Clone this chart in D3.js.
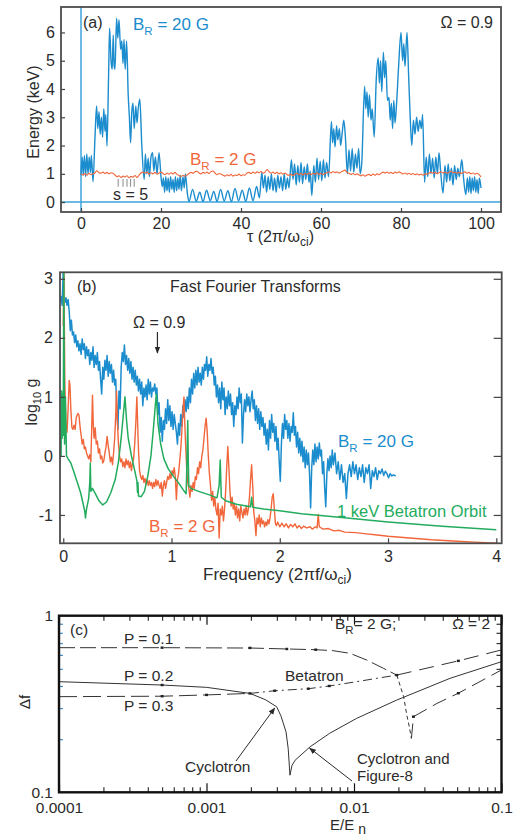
<!DOCTYPE html>
<html>
<head>
<meta charset="utf-8">
<script src="https://cdn.jsdelivr.net/npm/d3@7"></script>
<style>
  body { margin: 0; background: #fff; }
  svg text { font-family: "Liberation Sans", Arial, Helvetica, sans-serif; fill: #2b2b2b; }
</style>
</head>
<body>
<svg id="fig" width="515" height="836"></svg>
<script>
// ---------------- (a) energy versus time ----------------
const tauTicks = [0, 20, 40, 60, 80, 100];
const energyTicks = [0, 1, 2, 3, 4, 5, 6];

// B_R = 20 G energy trace: [tau, keV] turning points
const energy20G = [
  [0,0.95],[0.3,1.6],[0.55,0.95],[0.85,1.65],[1.15,0.9],[1.45,1.7],[1.75,1.0],[2.05,1.6],[2.35,1.05],[2.6,1.65],[3.0,0.72],
  [3.5,2.3],[3.9,3.4],[4.2,2.6],[4.5,3.2],[4.8,2.4],[5.1,3.0],[5.4,2.3],[5.7,3.3],[6.0,2.5],[6.2,3.1],[6.5,1.98],
  [6.9,4.5],[7.15,6.15],[7.5,5.0],[7.8,4.7],[8.05,5.9],[8.3,4.8],[8.5,4.7],[8.9,6.5],[9.2,5.8],[9.5,6.45],[9.9,5.4],[10.2,5.7],
  [10.5,4.9],[10.75,5.75],[11.05,4.7],[11.4,5.7],[11.8,3.8],[12.1,3.0],[12.4,2.1],[12.7,3.2],[13.0,3.5],[13.3,2.6],[13.7,3.4],
  [14.0,2.8],[14.3,3.3],[14.7,3.65],[15.2,2.0],[15.8,0.8],
  [16.1,1.7],[16.45,1.0],[16.8,1.55],[17.1,0.9],[17.5,1.6],[17.9,1.75],[18.2,1.1],[18.6,1.6],[19.0,1.0],[19.5,1.75],[20.0,0.9],[20.3,0.55],
  [20.6,0.85],[20.9,0.35],[21.2,0.9],[21.5,0.4],[21.8,0.85],[22.1,0.35],[22.4,0.9],[22.7,0.45],[23.0,0.8],[23.3,0.35],[23.6,0.9],
  [23.9,0.4],[24.2,0.85],[24.5,0.45],[24.8,0.95],[25.1,0.4],[25.5,0.9],[25.8,0.5],[26.1,1.0],[26.6,0.3],[27.0,0.02],
  [27.9,0.45],[28.8,0.03],[29.7,0.35],[30.5,0.02],[31.4,0.42],[32.3,0.05],[33.2,0.38],[34.0,0.02],[34.9,0.45],[35.8,0.04],
  [36.7,0.4],[37.6,0.02],[38.5,0.48],[39.4,0.05],[40.3,0.42],[41.2,0.03],[42.1,0.5],[43.0,0.05],[43.9,0.55],[44.6,0.15],
  [45.2,1.05],[45.6,0.5],[46.0,0.95],[46.4,0.35],[46.8,0.9],[47.2,0.45],[47.6,1.0],[48.0,0.4],[48.4,0.85],[48.8,0.35],[49.2,0.95],
  [49.6,0.5],[50.0,0.9],[50.4,0.4],[50.8,1.0],[51.2,0.45],[51.6,0.85],[52.0,0.5],[52.6,1.5],[53.0,0.8],
  [53.4,1.35],[53.8,0.6],[54.2,1.3],[54.6,0.7],[55.0,1.4],[55.4,0.65],[55.8,1.25],[56.2,0.8],[56.6,1.35],[57.0,0.7],[57.3,1.1],[57.7,0.23],
  [58.2,1.3],[58.6,0.7],[59.0,1.55],[59.4,0.8],[59.8,1.45],[60.2,0.75],[60.6,1.5],[61.0,0.85],[61.4,1.4],[61.9,0.9],
  [62.6,2.85],[62.9,2.1],[63.2,2.6],[63.5,1.95],[63.9,2.7],[64.2,2.2],[64.6,2.6],[64.9,2.0],[65.3,2.45],[65.7,2.9],[66.1,2.3],[66.6,1.0],
  [67.0,1.85],[67.4,1.1],[67.8,1.9],[68.2,1.05],[68.6,1.7],[69.0,1.2],[69.4,1.9],[69.8,1.0],[70.2,1.4],
  [70.9,4.1],[71.2,3.3],[71.5,3.9],[71.8,3.0],[72.1,3.8],[72.5,2.9],[72.8,3.3],[73.3,2.3],
  [73.8,4.3],[74.3,5.1],[74.6,4.2],[74.9,5.0],[75.2,3.9],[75.6,5.3],[75.9,4.4],[76.2,5.0],[76.6,3.6],
  [77.0,3.7],[77.3,2.9],[77.6,3.5],[77.9,2.6],[78.2,3.6],[78.5,2.8],[78.9,3.5],
  [79.4,4.8],[80.0,6.0],[80.4,5.0],[80.7,5.6],[81.0,4.8],[81.5,6.0],[81.9,4.5],[82.3,3.0],[82.7,2.0],
  [83.1,2.9],[83.5,2.4],[83.9,3.0],[84.3,2.5],[84.7,2.9],[85.1,2.6],[85.4,3.1],[85.9,0.7],
  [86.3,1.6],[86.7,0.9],[87.1,1.7],[87.5,1.0],[87.9,1.55],[88.3,0.85],[88.7,1.6],[89.1,1.0],[89.5,1.75],[89.9,1.1],[90.5,0.32],
  [91.0,1.3],[91.4,0.7],[91.8,1.35],[92.2,0.75],[92.6,1.2],[93.0,0.6],[93.4,1.3],[93.8,0.8],[94.2,1.2],[94.6,0.9],[95.2,1.5],[95.6,0.9],[96.2,0.26],
  [96.6,0.85],[96.9,0.35],[97.2,0.9],[97.5,0.3],[97.8,0.85],[98.1,0.4],[98.4,0.9],[98.7,0.35],[99.0,0.8],[99.3,0.3],[99.6,0.85],[100.0,0.5]
];

// B_R = 2 G energy trace, sampled every half unit of tau from 0 to 100
const tauStep2G = 0.5;
const energy2G = [
  1.00,0.96,1.01,0.95,1.02,0.97,1.00,1.04,1.11,1.04,1.02,1.06,1.01,1.05,1.00,1.04,1.02,0.96,0.90,0.93,
  0.87,0.92,0.89,0.93,0.86,0.91,0.88,0.94,0.87,0.95,1.03,1.06,1.02,1.06,0.99,1.04,1.00,1.05,0.99,1.03,
  1.06,1.01,0.97,1.03,0.99,1.04,1.00,1.05,0.98,0.94,0.91,0.95,0.92,0.96,1.01,1.05,1.02,1.07,1.09,1.03,
  1.00,1.05,1.02,1.06,1.01,1.08,1.10,1.03,0.97,1.01,0.99,0.95,0.92,0.97,0.93,0.98,0.92,0.96,0.94,0.99,
  0.93,0.97,0.95,1.03,1.05,1.01,1.06,1.02,1.07,1.04,1.08,1.02,1.06,1.15,1.08,1.02,1.06,1.01,1.05,1.00,
  1.04,0.99,1.03,0.97,0.95,0.98,0.94,0.99,1.02,0.97,1.01,0.96,1.02,0.98,1.03,0.97,1.02,0.99,1.04,0.98,
  1.02,0.97,1.01,1.04,1.07,1.03,1.08,1.04,1.07,1.03,1.06,1.10,1.13,1.05,1.02,0.98,1.01,0.97,1.00,0.96,
  0.93,0.97,0.92,0.96,0.98,0.94,0.99,0.95,1.00,0.97,1.02,1.06,1.03,1.06,1.02,1.05,1.01,1.06,1.03,1.07,
  1.04,1.00,1.03,0.99,1.02,0.98,1.01,0.97,1.00,0.96,0.99,0.95,1.00,0.98,1.03,1.06,1.02,1.05,1.01,1.04,
  1.07,1.03,1.06,1.02,1.05,1.09,1.04,1.06,1.02,1.05,1.01,1.04,1.07,1.02,1.05,1.00,1.03,0.99,1.02,0.98,
  0.89
];

// cyclotron periods marked under the 2 G trace (s = 5)
const periodMarks = [9.3, 10.5, 11.5, 12.4, 13.3];

// ---------------- (b) Fourier spectra ----------------
const freqTicks = [0, 1, 2, 3, 4];
const log10gTicks = [-1, 0, 1, 2, 3];

// [frequency, log10 g]
const spectrum20G = [
  [-0.03,2.62],[-0.02,2.7],[-0.01,2.55],[0.0,3.15],[0.005,2.7],[0.015,2.6],[0.025,2.68],[0.035,2.55],[0.045,2.65],[0.055,2.45],
  [0.065,2.12],[0.075,2.3],[0.085,2.05],[0.095,2.1],[0.105,1.92],[0.115,2.05],[0.125,1.85],[0.135,1.95],[0.145,1.78],[0.155,1.9],
  [0.165,1.72],[0.175,1.98],[0.185,1.8],[0.195,1.9],[0.205,1.65],[0.215,1.85],[0.225,1.7],[0.235,1.8],[0.245,1.55],[0.255,1.75],
  [0.265,1.62],[0.275,1.85],[0.285,1.5],[0.295,1.7],[0.305,1.55],[0.315,1.75],[0.325,1.45],[0.335,1.6],[0.345,1.3],[0.355,1.05],
  [0.365,1.5],[0.375,1.3],[0.385,1.62],[0.395,1.45],[0.405,1.7],[0.415,1.35],[0.425,1.6],[0.435,1.4],[0.445,1.55],[0.455,1.25],
  [0.465,1.45],[0.475,1.2],[0.485,1.3],[0.495,0.75],[0.505,0.45],[0.515,1.1],[0.525,0.8],[0.535,1.5],[0.545,1.75],[0.555,1.6],
  [0.565,1.88],[0.575,1.55],[0.585,1.7],[0.595,1.45],[0.605,1.65],[0.615,1.4],[0.625,1.6],[0.635,1.3],[0.645,1.5],[0.655,1.25],
  [0.665,1.45],[0.675,1.2],[0.685,1.35],[0.695,1.1],[0.705,1.3],[0.715,1.05],[0.725,1.25],[0.735,0.85],[0.745,1.15],[0.755,1.0],
  [0.765,1.2],[0.775,0.95],[0.785,1.3],[0.795,1.05],[0.805,1.25],[0.815,1.0],[0.825,1.15],[0.835,1.1],[0.845,1.22],[0.855,1.05],
  [0.865,1.15],[0.875,0.7],[0.885,0.9],[0.895,0.4],[0.905,0.65],[0.915,0.25],[0.925,0.6],[0.935,0.45],[0.945,0.8],[0.955,0.55],
  [0.965,0.95],[0.975,0.6],[0.985,0.85],[0.995,0.5],[1.005,0.75],[1.015,0.45],[1.025,0.7],[1.035,0.55],[1.045,0.4],[1.055,0.2],
  [1.065,0.55],[1.075,0.35],[1.085,0.7],[1.095,0.5],[1.105,0.85],[1.115,0.65],[1.125,0.95],[1.135,0.75],[1.145,1.0],[1.155,0.8],
  [1.165,1.15],[1.175,0.9],[1.185,1.3],[1.195,1.05],[1.205,1.4],[1.215,1.15],[1.225,1.45],[1.235,1.2],[1.245,1.5],[1.255,1.25],
  [1.265,1.4],[1.275,1.2],[1.285,1.5],[1.295,1.3],[1.305,1.55],[1.315,1.45],[1.325,1.68],[1.335,1.35],[1.345,1.55],[1.355,1.45],
  [1.365,1.65],[1.375,1.4],[1.385,1.5],[1.395,1.2],[1.405,1.35],[1.415,1.0],[1.425,1.2],[1.435,0.9],[1.445,1.15],[1.455,0.8],
  [1.465,1.25],[1.475,0.95],[1.485,1.15],[1.495,0.7],[1.505,1.0],[1.515,0.8],[1.525,1.1],[1.535,0.85],[1.545,1.05],[1.555,0.7],
  [1.565,0.9],[1.575,0.5],[1.585,0.85],[1.595,0.7],[1.605,1.0],[1.615,0.8],[1.625,1.15],[1.635,0.9],[1.645,1.05],[1.655,0.22],
  [1.665,0.7],[1.675,0.95],[1.685,0.75],[1.695,1.05],[1.705,0.85],[1.715,1.0],[1.725,0.75],[1.735,0.95],[1.745,1.1],[1.755,0.8],
  [1.765,0.95],[1.775,0.6],[1.785,0.85],[1.795,0.55],[1.805,0.8],[1.815,0.45],[1.825,0.75],[1.835,0.5],[1.845,0.65],[1.855,0.35],
  [1.865,0.55],[1.875,0.2],[1.885,0.45],[1.895,0.1],[1.905,0.6],[1.915,0.3],[1.925,0.7],[1.935,0.4],[1.945,0.55],[1.955,0.25],
  [1.965,0.5],[1.975,0.1],[1.985,0.3],[1.995,-0.1],[2.005,-0.43],[2.015,0.2],[2.025,0.55],[2.035,0.3],[2.045,0.7],[2.055,0.45],
  [2.065,0.6],[2.075,0.3],[2.085,0.55],[2.095,0.25],[2.105,0.5],[2.115,0.4],[2.125,0.73],[2.135,0.35],[2.145,0.5],[2.155,0.15],
  [2.165,0.4],[2.175,0.05],[2.185,0.3],[2.195,0.0],[2.205,0.25],[2.215,-0.1],[2.225,0.15],[2.235,-0.2],[2.245,0.1],[2.255,-0.15],
  [2.265,0.05],[2.275,-0.3],[2.285,-0.88],[2.295,-0.2],[2.305,0.1],[2.315,-0.15],[2.325,0.2],[2.335,-0.1],[2.345,0.15],[2.355,-0.05],
  [2.365,0.22],[2.375,0.0],[2.385,0.1],[2.395,-0.3],[2.405,-0.1],[2.415,-0.55],[2.425,-0.86],[2.435,-0.3],[2.445,-0.05],[2.455,-0.25],
  [2.465,0.0],[2.475,-0.2],[2.485,0.1],[2.495,-0.15],[2.51,0.05],[2.525,-0.3],[2.54,-0.1],[2.555,-0.4],[2.57,-0.15],[2.585,-0.45],
  [2.6,-0.3],[2.615,-0.72],[2.63,-0.3],[2.645,-0.15],[2.66,-0.35],[2.675,-0.1],[2.69,-0.3],[2.705,-0.15],[2.72,-0.4],[2.735,-0.2],
  [2.75,-0.35],[2.765,-0.15],[2.78,-0.45],[2.795,-0.2],[2.81,-0.3],[2.825,-0.15],[2.84,-0.55],[2.855,-0.25],[2.87,-0.35],[2.885,-0.2],
  [2.9,-0.4],[2.915,-0.25],[2.93,-0.3],[2.945,-0.22],[2.96,-0.33],[2.975,-0.26],[2.99,-0.3],[3.005,-0.37],[3.02,-0.3],[3.035,-0.34],
  [3.05,-0.32],[3.07,-0.34]
];

const spectrum2G = [
  [0.0,2.2],[0.006,3.15],[0.015,1.2],[0.025,0.5],[0.035,0.4],[0.045,0.8],[0.055,1.28],[0.062,1.2],[0.07,0.8],[0.08,0.48],
  [0.09,0.45],[0.1,0.52],[0.11,0.45],[0.12,0.65],[0.135,0.72],[0.145,0.69],[0.155,0.5],[0.165,0.35],[0.175,0.2],[0.185,0.28],
  [0.195,0.12],[0.205,0.15],[0.215,0.05],[0.225,0.0],[0.235,-0.05],[0.245,0.02],[0.255,-0.1],[0.262,0.4],[0.27,1.03],[0.278,0.5],
  [0.285,0.3],[0.295,0.48],[0.305,0.2],[0.315,0.25],[0.325,0.05],[0.335,0.12],[0.345,-0.05],[0.355,0.0],[0.365,-0.12],[0.375,-0.08],
  [0.385,0.05],[0.395,0.15],[0.405,0.33],[0.415,0.18],[0.425,0.05],[0.435,-0.1],[0.445,-0.02],[0.455,-0.15],[0.465,0.05],[0.475,0.3],
  [0.485,0.7],[0.492,1.1],[0.5,0.6],[0.51,0.2],[0.52,0.0],[0.53,-0.1],[0.54,-0.05],[0.55,-0.18],[0.56,-0.1],[0.57,-0.2],
  [0.58,-0.05],[0.59,-0.15],[0.6,-0.08],[0.61,-0.2],[0.62,-0.1],[0.63,-0.25],[0.64,-0.12],[0.65,-0.05],[0.66,0.2],[0.67,0.55],
  [0.68,1.0],[0.688,0.5],[0.695,0.1],[0.705,-0.25],[0.715,-0.35],[0.725,-0.4],[0.735,-0.33],[0.745,-0.45],[0.755,-0.38],[0.765,-0.48],
  [0.775,-0.4],[0.785,-0.5],[0.795,-0.42],[0.805,-0.5],[0.815,-0.45],[0.825,-0.55],[0.835,-0.45],[0.845,-0.52],[0.855,-0.4],[0.865,-0.5],
  [0.875,-0.42],[0.885,-0.5],[0.895,-0.55],[0.905,-0.45],[0.915,-0.68],[0.925,-0.5],[0.935,-0.42],[0.945,-0.55],[0.955,-0.45],[0.965,-0.35],
  [0.975,-0.4],[0.985,-0.3],[0.995,-0.38],[1.005,-0.25],[1.015,-0.32],[1.025,-0.2],[1.035,-0.35],[1.045,-0.74],[1.055,-0.4],[1.065,-0.3],
  [1.075,-0.1],[1.085,0.1],[1.095,0.4],[1.105,0.75],[1.115,1.0],[1.122,0.6],[1.13,0.2],[1.14,-0.2],[1.15,-0.45],[1.16,-0.55],
  [1.17,-0.7],[1.18,-0.5],[1.19,-0.6],[1.2,-0.45],[1.21,-0.55],[1.22,-0.35],[1.23,-0.4],[1.24,-0.2],[1.25,-0.3],[1.26,-0.1],
  [1.27,-0.2],[1.28,0.0],[1.29,0.1],[1.3,0.3],[1.31,0.5],[1.32,0.64],[1.33,0.4],[1.34,0.0],[1.35,-0.3],[1.36,-0.5],
  [1.37,-0.75],[1.38,-0.6],[1.39,-0.85],[1.4,-0.7],[1.41,-0.9],[1.42,-1.0],[1.43,-0.8],[1.44,-1.39],[1.45,-0.9],[1.46,-1.0],
  [1.47,-0.85],[1.48,-1.1],[1.49,-0.9],[1.5,-0.6],[1.51,-0.2],[1.52,0.16],[1.53,-0.2],[1.54,-0.6],[1.55,-0.85],[1.56,-0.7],
  [1.57,-0.9],[1.58,-0.8],[1.59,-1.0],[1.6,-0.85],[1.61,-1.05],[1.62,-0.9],[1.63,-1.1],[1.64,-0.85],[1.65,-0.95],[1.66,-1.05],
  [1.67,-0.9],[1.68,-1.0],[1.69,-0.85],[1.7,-1.0],[1.71,-0.9],[1.72,-0.7],[1.73,-0.4],[1.74,-0.15],[1.75,-0.5],[1.76,-0.95],
  [1.77,-1.1],[1.78,-1.35],[1.79,-1.05],[1.8,-1.15],[1.81,-1.0],[1.82,-1.2],[1.83,-1.05],[1.84,-1.15],[1.85,-1.1],[1.86,-1.2],
  [1.87,-1.12],[1.88,-1.18],[1.89,-1.08],[1.9,-1.15],[1.91,-1.05],[1.92,-0.9],[1.93,-0.7],[1.94,-0.64],[1.95,-0.9],[1.96,-1.15],
  [1.97,-1.18],[1.98,-1.12],[2.0,-1.2],[2.02,-1.14],[2.04,-1.2],[2.06,-1.15],[2.08,-1.22],[2.1,-1.16],[2.12,-1.2],[2.14,-1.15],
  [2.16,-1.22],[2.18,-1.18],[2.2,-1.23],[2.22,-1.19],[2.25,-1.22],[2.28,-1.2],[2.3,-1.24],[2.33,-1.2],[2.345,-1.22],[2.355,-0.99],
  [2.365,-1.2],[2.4,-1.24],[2.45,-1.23],[2.5,-1.27],[2.55,-1.26],[2.6,-1.29],[2.7,-1.3],[2.8,-1.32],[2.9,-1.34],[3.0,-1.36],
  [3.2,-1.39],[3.4,-1.42],[3.6,-1.44],[3.8,-1.46],[4.0,-1.48]
];

const spectrumBetatron = [
  [-0.03,0.0],[-0.02,0.0],[-0.015,1.1],[-0.01,0.3],[-0.005,1.05],[0.0,0.35],[0.005,3.15],[0.012,0.2],[0.02,1.0],[0.03,0.0],
  [0.045,-0.05],[0.07,-0.12],[0.1,-0.28],[0.13,-0.45],[0.16,-0.62],[0.18,-0.78],[0.2,-0.95],[0.205,-1.05],[0.215,-0.9],[0.235,-0.72],
  [0.245,-0.45],[0.25,-0.12],[0.255,-0.6],[0.27,-0.55],[0.3,-0.65],[0.33,-0.76],[0.365,-0.83],[0.4,-0.78],[0.44,-0.62],[0.48,-0.4],
  [0.51,-0.1],[0.535,0.3],[0.555,0.7],[0.57,1.0],[0.585,0.6],[0.6,0.3],[0.63,0.0],[0.66,-0.25],[0.68,-0.42],[0.686,-0.62],
  [0.69,-0.45],[0.695,-0.68],[0.72,-0.69],[0.75,-0.6],[0.78,-0.35],[0.81,0.0],[0.83,0.4],[0.85,0.85],[0.86,1.05],[0.875,0.55],
  [0.9,0.2],[0.93,-0.05],[0.97,-0.22],[1.02,-0.35],[1.07,-0.47],[1.11,-0.58],[1.135,-0.64],[1.14,-0.3],[1.15,0.6],[1.155,-0.1],
  [1.16,-0.5],[1.18,-0.55],[1.25,-0.6],[1.35,-0.66],[1.42,-0.71],[1.44,-0.5],[1.45,-0.07],[1.46,-0.7],[1.5,-0.76],[1.6,-0.82],
  [1.73,-0.86],[1.74,-0.7],[1.75,-0.87],[1.85,-0.9],[2.0,-0.93],[2.2,-0.98],[2.5,-1.03],[3.0,-1.12],[3.5,-1.19],[4.0,-1.25]
];

// ---------------- (c) frequency spread versus energy ----------------
const energyRatioTicks = [1e-4, 1e-3, 1e-2, 1e-1];
const energyRatioLabels = ["0.0001", "0.001", "0.01", "0.1"];
const deltaFTicks = [0.1, 1];
const deltaFLabels = ["0.1", "1"];

// [E/E_n, delta f]
const orbitP01 = [[1e-4,0.659],[5e-4,0.659],[0.002,0.656],[0.0035,0.648],[0.0055,0.642],[0.0072,0.634],[0.0094,0.612],[0.0122,0.561],[0.0158,0.504],[0.0195,0.461]];
const orbitP01Drop = [[0.0195,0.461],[0.0217,0.348],[0.0228,0.274],[0.0237,0.235],[0.0245,0.202]];
const orbitP01Rise = [[0.0245,0.202],[0.0253,0.268],[0.0366,0.319],[0.051,0.364],[0.1,0.493]];
const orbitP02 = [[1e-4,0.423],[5e-4,0.405],[0.001,0.393],[0.00197,0.363],[0.0025,0.335],[0.00299,0.305],[0.0032,0.27],[0.00346,0.22],
  [0.00358,0.177],[0.00368,0.125],[0.0038,0.142],[0.00399,0.152],[0.00504,0.181],[0.00685,0.216],[0.0104,0.262],[0.0195,0.333],[0.0448,0.442],[0.1,0.549]];
const orbitP03 = [[1e-4,0.348],[5e-4,0.350],[0.001,0.356],[0.00197,0.363]];
const orbitBetatron = [[0.00197,0.363],[0.0029,0.376],[0.0049,0.386],[0.0068,0.40],[0.0104,0.423],[0.0143,0.442],[0.0195,0.461]];
const orbitUpper = [[0.0195,0.461],[0.051,0.555],[0.1,0.64]];
const orbitMarkers = [[5e-4,0.659],[0.00197,0.657],[0.0035,0.648],[0.0055,0.642],[5e-4,0.405],[5e-4,0.350],[0.001,0.356],[0.00197,0.363],
  [0.0029,0.376],[0.0049,0.386],[0.0068,0.40],[0.0195,0.461],[0.051,0.555],[0.051,0.364],[0.0253,0.268]];

// ---------------- drawing ----------------
const svg = d3.select("#fig");
const BLUE = "#1b8ccd", ORANGE = "#f1663a", GREEN = "#23ac5e", INK = "#2b2b2b";
const plain = d => String(d);

const defs = svg.append("defs");
defs.append("marker").attr("id", "arrow").attr("viewBox", "0 0 10 10")
  .attr("refX", 9).attr("refY", 5).attr("markerWidth", 7).attr("markerHeight", 7)
  .attr("orient", "auto-start-reverse").attr("markerUnits", "userSpaceOnUse")
  .append("path").attr("d", "M0,1 L10,5 L0,9 Z").attr("fill", INK);

function clip(id, x, y) {
  defs.append("clipPath").attr("id", id).append("rect")
    .attr("x", x[0]).attr("y", y[1]).attr("width", x[1] - x[0]).attr("height", y[0] - y[1]);
}
function styleAxis(g, size, tickColor) {
  g.attr("font-size", size).attr("font-family", null);
  g.select(".domain").remove();
  g.selectAll(".tick line").attr("stroke", tickColor || "#444").attr("stroke-width", 1.2);
  g.selectAll(".tick text").attr("fill", INK);
}
function subText(g, x, y, parts, opts) {
  const t = g.append("text").attr("x", x).attr("y", y).attr("font-size", opts.size || 16);
  if (opts.fill) t.attr("fill", opts.fill).style("fill", opts.fill);
  if (opts.rotate) t.attr("transform", `rotate(-90,${x},${y})`).attr("text-anchor", "middle");
  if (opts.anchor) t.attr("text-anchor", opts.anchor);
  let shift = 0;
  parts.forEach(p => {
    const s = t.append("tspan").text(p.t);
    const want = p.sub ? (p.sub === true ? 4 : p.sub) : 0;
    if (want !== shift) { s.attr("dy", want - shift); shift = want; }
    if (p.sub) s.attr("font-size", p.size || 11.5);
  });
  return t;
}

// ===== panel (a) =====
const xA = d3.scaleLinear().domain([-5, 105]).range([61, 501]);
const yA = d3.scaleLinear().domain([-0.35, 6.9]).range([212, 7]);
clip("clipA", xA.range(), yA.range());
const gA = svg.append("g");

gA.append("line").attr("x1", xA(0)).attr("x2", xA(0)).attr("y1", yA.range()[1]).attr("y2", yA.range()[0])
  .attr("stroke", "#3da3dc").attr("stroke-width", 1.5);
gA.append("line").attr("x1", xA.range()[0]).attr("x2", xA.range()[1]).attr("y1", yA(0)).attr("y2", yA(0))
  .attr("stroke", "#3da3dc").attr("stroke-width", 1.5);

const plotA = gA.append("g").attr("clip-path", "url(#clipA)");
plotA.append("path").datum(energy20G)
  .attr("d", d3.line().x(d => xA(d[0])).y(d => yA(d[1])).curve(d3.curveMonotoneX))
  .attr("fill", "none").attr("stroke", BLUE).attr("stroke-width", 1.4);
plotA.append("path").datum(energy2G)
  .attr("d", d3.line().x((d, i) => xA(i * tauStep2G)).y(d => yA(d)).curve(d3.curveMonotoneX))
  .attr("fill", "none").attr("stroke", ORANGE).attr("stroke-width", 1.1);

gA.selectAll(".period").data(periodMarks).join("line")
  .attr("x1", d => xA(d)).attr("x2", d => xA(d))
  .attr("y1", yA(0.82)).attr("y2", yA(0.54))
  .attr("stroke", "#888").attr("stroke-width", 1);

gA.append("rect").attr("x", xA.range()[0]).attr("y", yA.range()[1])
  .attr("width", xA.range()[1] - xA.range()[0]).attr("height", yA.range()[0] - yA.range()[1])
  .attr("fill", "none").attr("stroke", "#4d4d4d").attr("stroke-width", 1.8);

styleAxis(gA.append("g").attr("transform", `translate(0,${yA.range()[0]})`)
  .call(d3.axisBottom(xA).tickValues(tauTicks).tickFormat(plain).tickSize(-4).tickPadding(6)), 16);
styleAxis(gA.append("g").attr("transform", `translate(${xA.range()[0]},0)`)
  .call(d3.axisLeft(yA).tickValues(energyTicks).tickFormat(plain).tickSize(-4).tickPadding(6)), 16);

gA.append("text").attr("x", 83).attr("y", 28).attr("font-size", 16).text("(a)");
subText(gA, 133, 30, [{t: "B"}, {t: "R", sub: 5}, {t: " = 20 G"}], {size: 17, fill: BLUE});
gA.append("text").attr("x", 493).attr("y", 28).attr("font-size", 16).attr("text-anchor", "end").text("Ω = 0.9");
subText(gA, 190, 165, [{t: "B"}, {t: "R", sub: 5}, {t: " = 2 G"}], {size: 17, fill: ORANGE});
gA.append("text").attr("x", 113).attr("y", 200).attr("font-size", 16).text("s = 5");
subText(gA, 38.5, 112, [{t: "Energy (keV)"}], {size: 16, rotate: true});
subText(gA, 247, 242, [{t: "τ  (2π/ω"}, {t: "ci", sub: 4, size: 12}, {t: ")"}], {size: 16});

// ===== panel (b) =====
const xB = d3.scaleLinear().domain([-0.03, 4.05]).range([60, 501.7]);
const yB = d3.scaleLinear().domain([-1.48, 3.11]).range([543.3, 272.3]);
clip("clipB", xB.range(), yB.range());
const gB = svg.append("g");
const plotB = gB.append("g").attr("clip-path", "url(#clipB)");
const lineB = d3.line().x(d => xB(d[0])).y(d => yB(d[1]));
plotB.append("path").datum(spectrum20G).attr("d", lineB)
  .attr("fill", "none").attr("stroke", BLUE).attr("stroke-width", 1.5).attr("stroke-linejoin", "round");
plotB.append("path").datum(spectrum2G).attr("d", lineB)
  .attr("fill", "none").attr("stroke", ORANGE).attr("stroke-width", 1.4).attr("stroke-linejoin", "round");
plotB.append("path").datum(spectrumBetatron).attr("d", lineB)
  .attr("fill", "none").attr("stroke", GREEN).attr("stroke-width", 1.5).attr("stroke-linejoin", "round");

gB.append("rect").attr("x", xB.range()[0]).attr("y", yB.range()[1])
  .attr("width", xB.range()[1] - xB.range()[0]).attr("height", yB.range()[0] - yB.range()[1])
  .attr("fill", "none").attr("stroke", "#4d4d4d").attr("stroke-width", 1.8);

styleAxis(gB.append("g").attr("transform", `translate(0,${yB.range()[0]})`)
  .call(d3.axisBottom(xB).tickValues(freqTicks).tickFormat(plain).tickSize(-5).tickPadding(7)), 16);
styleAxis(gB.append("g").attr("transform", `translate(${xB.range()[0]},0)`)
  .call(d3.axisLeft(yB).tickValues(log10gTicks).tickFormat(plain).tickSize(-5).tickPadding(7)), 16);
styleAxis(gB.append("g").attr("transform", `translate(${xB.range()[1]},0)`)
  .call(d3.axisRight(yB).tickValues(log10gTicks).tickFormat("").tickSize(-8)), 16);

gB.append("text").attr("x", 77).attr("y", 292).attr("font-size", 16).text("(b)");
gB.append("text").attr("x", 170).attr("y", 292).attr("font-size", 16).text("Fast Fourier Transforms");
gB.append("text").attr("x", 133).attr("y", 328).attr("font-size", 16).text("Ω = 0.9");
gB.append("line").attr("x1", xB(0.87)).attr("x2", xB(0.87)).attr("y1", 332).attr("y2", 353)
  .attr("stroke", INK).attr("stroke-width", 1.2).attr("marker-end", "url(#arrow)");
subText(gB, 338, 447, [{t: "B"}, {t: "R", sub: 5}, {t: " = 20 G"}], {size: 17, fill: BLUE});
gB.append("text").attr("x", 337).attr("y", 517).attr("font-size", 16.5).style("fill", GREEN).text("1 keV Betatron Orbit");
subText(gB, 149, 532, [{t: "B"}, {t: "R", sub: 5}, {t: " = 2 G"}], {size: 17, fill: ORANGE});
subText(gB, 36.5, 402, [{t: "log"}, {t: "10", sub: 4, size: 11}, {t: " g", sub: 0}], {size: 16, rotate: true});
subText(gB, 203, 580, [{t: "Frequency  (2πf/ω"}, {t: "ci", sub: 4, size: 12}, {t: ")"}], {size: 17});

// ===== panel (c) =====
const xC = d3.scaleLog().domain([1e-4, 0.1]).range([59, 501.5]);
const yC = d3.scaleLog().domain([0.1, 1]).range([792.3, 615.7]);
clip("clipC", xC.range(), yC.range());
const gC = svg.append("g");
const plotC = gC.append("g").attr("clip-path", "url(#clipC)");
const lineC = d3.line().x(d => xC(d[0])).y(d => yC(d[1]));
const orbitStyles = [
  [orbitP01, "16,5"], [orbitP01Drop, "4,3"], [orbitP01Rise, "15,7"],
  [orbitP02, null], [orbitP03, "18,6"], [orbitBetatron, "9,4,2,4"], [orbitUpper, "15,8"]
];
orbitStyles.forEach(([pts, dash]) => {
  const p = plotC.append("path").datum(pts).attr("d", lineC)
    .attr("fill", "none").attr("stroke", "#333").attr("stroke-width", 1);
  if (dash) p.attr("stroke-dasharray", dash);
});
plotC.selectAll(".mk").data(orbitMarkers).join("rect")
  .attr("x", d => xC(d[0]) - 1.5).attr("y", d => yC(d[1]) - 1.2)
  .attr("width", 3).attr("height", 2.4).attr("fill", "#222");

const minorX = [];
[1e-4, 1e-3, 1e-2].forEach(dec => { for (let k = 2; k <= 9; k++) minorX.push(dec * k); });
const minorY = [0.2, 0.3, 0.4, 0.5, 0.6, 0.7, 0.8, 0.9];

styleAxis(gC.append("g").attr("transform", `translate(0,${yC.range()[0]})`)
  .call(d3.axisBottom(xC).tickValues(energyRatioTicks).tickFormat((d, i) => energyRatioLabels[i]).tickSize(-9).tickPadding(10)), 15.5, "#111");
styleAxis(gC.append("g").attr("transform", `translate(0,${yC.range()[0]})`)
  .call(d3.axisBottom(xC).tickValues(minorX).tickFormat("").tickSize(-5)), 15, "#333");
styleAxis(gC.append("g").attr("transform", `translate(0,${yC.range()[1]})`)
  .call(d3.axisTop(xC).tickValues(energyRatioTicks).tickFormat("").tickSize(-9)), 15, "#111");
styleAxis(gC.append("g").attr("transform", `translate(0,${yC.range()[1]})`)
  .call(d3.axisTop(xC).tickValues(minorX).tickFormat("").tickSize(-5)), 15, "#333");
styleAxis(gC.append("g").attr("transform", `translate(${xC.range()[0]},0)`)
  .call(d3.axisLeft(yC).tickValues(deltaFTicks).tickFormat((d, i) => deltaFLabels[i]).tickSize(0).tickPadding(6)), 15.5);
styleAxis(gC.append("g").attr("transform", `translate(${xC.range()[0]},0)`)
  .call(d3.axisLeft(yC).tickValues(minorY).tickFormat("").tickSize(-4)), 15, "#4a90c8");
styleAxis(gC.append("g").attr("transform", `translate(${xC.range()[1]},0)`)
  .call(d3.axisRight(yC).tickValues(minorY).tickFormat("").tickSize(-5)), 15, "#333");

gC.append("rect").attr("x", xC.range()[0]).attr("y", yC.range()[1])
  .attr("width", xC.range()[1] - xC.range()[0]).attr("height", yC.range()[0] - yC.range()[1])
  .attr("fill", "none").attr("stroke", "#111").attr("stroke-width", 2.4);

gC.append("text").attr("x", 70).attr("y", 635).attr("font-size", 15.5).text("(c)");
gC.append("text").attr("x", 124).attr("y", 644).attr("font-size", 15.5).text("P = 0.1");
gC.append("text").attr("x", 124).attr("y", 681).attr("font-size", 15.5).text("P = 0.2");
gC.append("text").attr("x", 124).attr("y", 710.5).attr("font-size", 15.5).text("P = 0.3");
gC.append("text").attr("x", 285).attr("y", 681).attr("font-size", 15.5).text("Betatron");
gC.append("text").attr("x", 185).attr("y", 772).attr("font-size", 15.5).text("Cyclotron");
gC.append("text").attr("x", 357).attr("y", 764).attr("font-size", 15).text("Cyclotron and");
gC.append("text").attr("x", 357).attr("y", 781).attr("font-size", 15).text("Figure-8");
subText(gC, 335, 629, [{t: "B"}, {t: "R", sub: 5}, {t: "= 2 G;"}], {size: 15.5});
gC.append("text").attr("x", 490).attr("y", 629).attr("font-size", 15.5).attr("text-anchor", "end").text("Ω  = 2");
subText(gC, 30, 702, [{t: "Δf"}], {size: 15.5, rotate: true});
subText(gC, 330, 830, [{t: "E/E "}, {t: "n", sub: 4, size: 14}], {size: 15});

// arrows pointing at the cyclotron branches
gC.append("line").attr("x1", 236).attr("y1", 761).attr("x2", xC(0.0029)).attr("y2", yC(0.30))
  .attr("stroke", INK).attr("stroke-width", 1).attr("marker-end", "url(#arrow)");
gC.append("line").attr("x1", 352).attr("y1", 781).attr("x2", xC(0.005)).attr("y2", yC(0.178))
  .attr("stroke", INK).attr("stroke-width", 1).attr("marker-end", "url(#arrow)");
</script>
</body>
</html>
